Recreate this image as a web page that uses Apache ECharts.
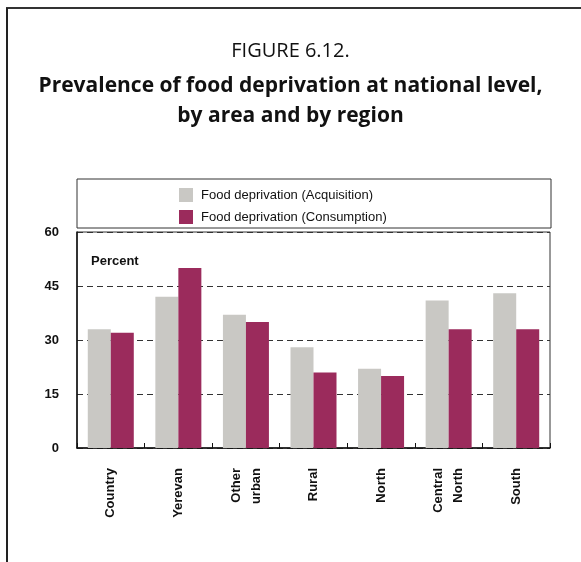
<!DOCTYPE html>
<html>
<head>
<meta charset="utf-8">
<script src="https://cdn.jsdelivr.net/npm/echarts@6/dist/echarts.min.js"></script>
<style>
html,body{margin:0;padding:0;background:#fff;}
#chart{width:581px;height:562px;}
</style>
</head>
<body>
<div id="chart"></div>
<script>
var categories = ['Country', 'Yerevan', 'Other\nurban', 'Rural', 'North', 'Central\nNorth', 'South'];
var acquisition = [33, 42, 37, 28, 22, 41, 43];
var consumption = [32, 50, 35, 21, 20, 33, 33];
var seriesNames = ['Food deprivation (Acquisition)', 'Food deprivation (Consumption)'];
var yTicks = [0, 15, 30, 45, 60];
var titleLines = ['FIGURE 6.12.', 'Prevalence of food deprivation at national level,', 'by area and by region'];

var chart = echarts.init(document.getElementById('chart'), null, {renderer: 'canvas'});
var lblFont = '"Liberation Sans", Arial, sans-serif';
var titleFont = '"Open Sans", "Noto Sans", sans-serif';

chart.setOption({
  animation: false,
  backgroundColor: '#ffffff',
  title: [
    {text: titleLines[0], left: 'center', top: 38, padding: 0,
     textStyle: {fontFamily: titleFont, fontWeight: 'normal', fontSize: 20, color: '#111', lineHeight: 26}},
    {text: titleLines[1], left: 'center', top: 73, padding: 0,
     textStyle: {fontFamily: titleFont, fontWeight: 'bold', fontSize: 21, color: '#111', lineHeight: 26}},
    {text: titleLines[2], left: 'center', top: 103, padding: 0,
     textStyle: {fontFamily: titleFont, fontWeight: 'bold', fontSize: 21, color: '#111', lineHeight: 26}}
  ],
  legend: {
    data: seriesNames,
    orient: 'vertical',
    left: 179,
    top: 188,
    padding: 0,
    itemWidth: 14,
    itemHeight: 14,
    itemGap: 8,
    icon: 'rect',
    textStyle: {fontFamily: lblFont, fontSize: 13, color: '#111', padding: [0, 0, 0, 3]}
  },
  grid: {
    left: 77, right: 31, top: 232, bottom: 114,
    show: true, borderColor: '#333', borderWidth: 1,
    containLabel: false, outerBoundsMode: 'none'
  },
  xAxis: {
    type: 'category',
    data: categories,
    axisLine: {show: true, lineStyle: {color: '#111', width: 1.5}},
    axisTick: {show: true, inside: true, length: 5, lineStyle: {color: '#111'}},
    axisLabel: {rotate: 90, margin: 20, interval: 0, fontFamily: lblFont, fontWeight: 'bold', fontSize: 13, color: '#111', lineHeight: 20}
  },
  yAxis: {
    type: 'value',
    min: 0, max: 60, interval: 15,
    axisLine: {show: true, lineStyle: {color: '#111', width: 1.5}},
    axisTick: {show: false},
    axisLabel: {margin: 18, fontFamily: lblFont, fontWeight: 'bold', fontSize: 13, color: '#111',
      formatter: function (v) { return yTicks.indexOf(v) >= 0 ? String(v) : ''; }},
    splitLine: {show: true, lineStyle: {color: '#333', type: [6, 4], width: 1}}
  },
  series: [
    {name: seriesNames[0], type: 'bar', data: acquisition, barWidth: 23, barGap: '0%',
     itemStyle: {color: '#c9c8c4'}},
    {name: seriesNames[1], type: 'bar', data: consumption, barWidth: 23, barGap: '0%',
     itemStyle: {color: '#9b2b5c'}}
  ],
  graphic: [
    {type: 'line', shape: {x1: 6, y1: 8, x2: 581, y2: 8}, style: {stroke: '#333', lineWidth: 2}, silent: true},
    {type: 'line', shape: {x1: 7, y1: 8, x2: 7, y2: 562}, style: {stroke: '#222', lineWidth: 2}, silent: true},
    {type: 'rect', shape: {x: 77, y: 179, width: 474, height: 49}, style: {fill: 'none', stroke: '#333', lineWidth: 1}, silent: true, z: -1},
    {type: 'text', left: 91, top: 255, style: {text: 'Percent', fontFamily: lblFont, fontWeight: 'bold', fontSize: 13, fill: '#111'}, silent: true}
  ]
});
</script>
</body>
</html>
